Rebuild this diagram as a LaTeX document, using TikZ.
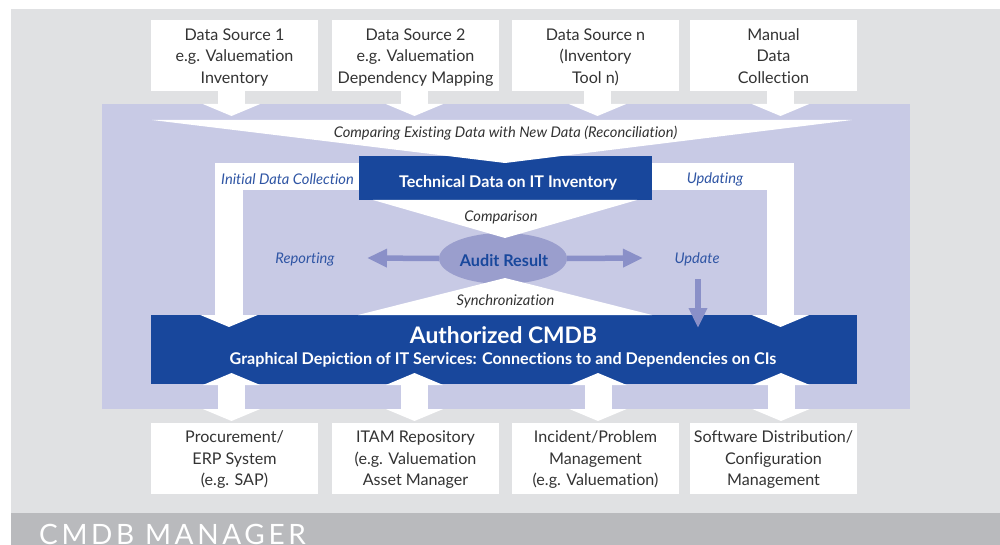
\documentclass[tikz,border=0pt]{standalone}
\usepackage{fontspec}
\setmainfont{Lato}[Ligatures=NoCommon]
\usetikzlibrary{arrows.meta,shapes.geometric}
\definecolor{bgray}{HTML}{E0E1E3}
\definecolor{dgray}{HTML}{B9BABD}
\definecolor{lav}{HTML}{C8CAE5}
\definecolor{cblue}{HTML}{18479C}
\definecolor{ell}{HTML}{9A9ECD}
\definecolor{arr}{HTML}{8A90C8}
\definecolor{txt}{HTML}{333333}
\definecolor{lblue}{HTML}{2F55A4}
\newcommand\strutT{\rule{0pt}{18pt}}
\newcommand\strutB{\rule{0pt}{16pt}}
\newcommand\strutE{\rule[-5pt]{0pt}{1pt}}
\tikzset{
  srcbox/.style={fill=white,minimum width=167pt,minimum height=71pt,inner sep=0pt,align=center,text=txt,font=\fontsize{16.1}{21.5}\selectfont},
  blockhead/.style={draw=white,line width=27pt,-{Triangle[length=12pt,width=57pt,fill=white]}},
  blockboth/.style={draw=white,line width=27pt,{Triangle[length=12pt,width=57pt,fill=white]}-{Triangle[length=12pt,width=57pt,fill=white]}},
  framearrow/.style={draw=white,line width=27.5pt,-{Triangle[length=12pt,width=57pt,fill=white]}},
  funnel/.style={fill=white,draw=none},
  smallarrow/.style={draw=arr,line width=5.5pt,-{Triangle[length=20pt,width=17.5pt,fill=arr]}},
  bluelabel/.style={text=lblue,font=\fontsize{14.7}{16}\selectfont\itshape,inner sep=0pt},
  darklabel/.style={text=txt,font=\fontsize{14.7}{16}\selectfont\itshape,inner sep=0pt},
}
\begin{document}
\begin{tikzpicture}[x=1pt,y=-1pt]
\useasboundingbox (0,0) rectangle (1000,545);
\fill[white] (0,0) rectangle (1000,545);
\fill[bgray] (11,9) rectangle (1000,513);
\fill[dgray] (11,513) rectangle (1000,545);
\fill[lav] (102,104) rectangle (910,409);
% source boxes
\node[srcbox] (ds1) at (234.5,55.5) {\strutT Data Source 1\\e.g. Valuemation\\Inventory\strutE};
\node[srcbox] (ds2) at (415.5,55.5) {\strutT Data Source 2\\e.g. Valuemation\\Dependency Mapping\strutE};
\node[srcbox] (ds3) at (595.5,55.5) {\strutT Data Source n\\(Inventory\\Tool n)\strutE};
\node[srcbox] (ds4) at (773.5,55.5) {\strutT Manual\\Data\\Collection\strutE};
% target boxes
\node[srcbox] (tg1) at (234.5,458.5) {\strutB Procurement/\\ERP System\\(e.g. SAP)\strutE};
\node[srcbox] (tg2) at (415.5,458.5) {\strutB ITAM Repository\\(e.g. Valuemation\\Asset Manager\strutE};
\node[srcbox] (tg3) at (595.5,458.5) {\strutB Incident/Problem\\Management\\(e.g. Valuemation)\strutE};
\node[srcbox] (tg4) at (773.5,458.5) {\strutB Software Distribution/\\Configuration\\Management\strutE};
% tips
\coordinate (t1) at (231.5,116);
\coordinate (t2) at (414.5,116);
\coordinate (t3) at (597.5,116);
\coordinate (t4) at (780.5,116);
\foreach \i in {1,2,3,4}{\draw[blockhead] (t\i |- ds\i.south) -- (t\i);}
% central blocks
\node[fill=cblue,minimum width=293pt,minimum height=44pt,inner sep=0pt] (tech) at (505.5,178) {};
\node[fill=cblue,minimum width=706pt,minimum height=69pt,inner sep=0pt] (cmdb) at (504,349.5) {};
% white frame arrows
\coordinate (fl) at (229,176.5);
\coordinate (fr) at (780.5,176.5);
\coordinate (ftl) at (229,327);
\coordinate (ftr) at (780.5,327);
\draw[framearrow] (tech.west |- fl) -- (fl) -- (ftl);
\draw[framearrow] (tech.east |- fr) -- (fr) -- (ftr);
% funnels
\fill[funnel] (152,120) -- (852,120) -- (505,163) -- cycle;
\node[fill=ell,ellipse,minimum width=128pt,minimum height=51pt,inner sep=0pt] (audit) at (503,258.5) {};
\fill[funnel] (373,200) -- (637,200) -- (505,238) -- cycle;
\fill[funnel] (358,315) -- (652,315) -- (505,278) -- cycle;
% double arrows under CMDB
\coordinate (bt1) at (231.5,373); \coordinate (be1) at (231.5,421);
\coordinate (bt2) at (414.5,373); \coordinate (be2) at (414.5,421);
\coordinate (bt3) at (598,373);   \coordinate (be3) at (598,421);
\coordinate (bt4) at (781,373);   \coordinate (be4) at (781,421);
\foreach \i in {1,2,3,4}{\draw[blockboth] (bt\i) -- (be\i);}
% labels
\node[darklabel] (lrec) at (505.5,133) {Comparing Existing Data with New Data (Reconciliation)};
\node[bluelabel] (linit) at (287.5,179) {Initial Data Collection};
\node[bluelabel] (lupd) at (715,179) {Updating};
\node[darklabel] (lcomp) at (501,217) {Comparison};
\node[darklabel] (lsync) at (505.5,301) {Synchronization};
\node[bluelabel] (lrep) at (305,259) {Reporting};
\node[bluelabel] (lupdate) at (697,259) {Update};
% arrows
\coordinate (arl) at (367,258);
\coordinate (arr) at (643,258);
\coordinate (ard) at (698,328);
\coordinate (ars) at (698,279);
\draw[smallarrow] (audit.west) -- (arl);
\draw[smallarrow] (audit.east) -- (arr);
\draw[smallarrow] (ars) -- (ard);
% box texts
\node[text=white,font=\fontsize{16.1}{18}\selectfont\bfseries,inner sep=0pt] (ttech) at (508,183) {Technical Data on IT Inventory};
\node[text=cblue,font=\fontsize{16.2}{18}\selectfont\bfseries,inner sep=0pt] (taudit) at (504,261) {Audit Result};
\node[text=white,font=\fontsize{22.8}{24}\selectfont\bfseries,inner sep=0pt] (ctitle) at (503.5,335) {Authorized CMDB};
\node[text=white,font=\fontsize{16.15}{18}\selectfont\bfseries,inner sep=0pt] (csub) at (503,360) {Graphical Depiction of IT Services: Connections to and Dependencies on CIs};
\node[text=white,anchor=base west,inner sep=0pt,font=\fontsize{28}{30}\selectfont\addfontfeature{LetterSpace=13}] (title) at (39,544) {CMDB MANAGER};
\end{tikzpicture}
\end{document}
